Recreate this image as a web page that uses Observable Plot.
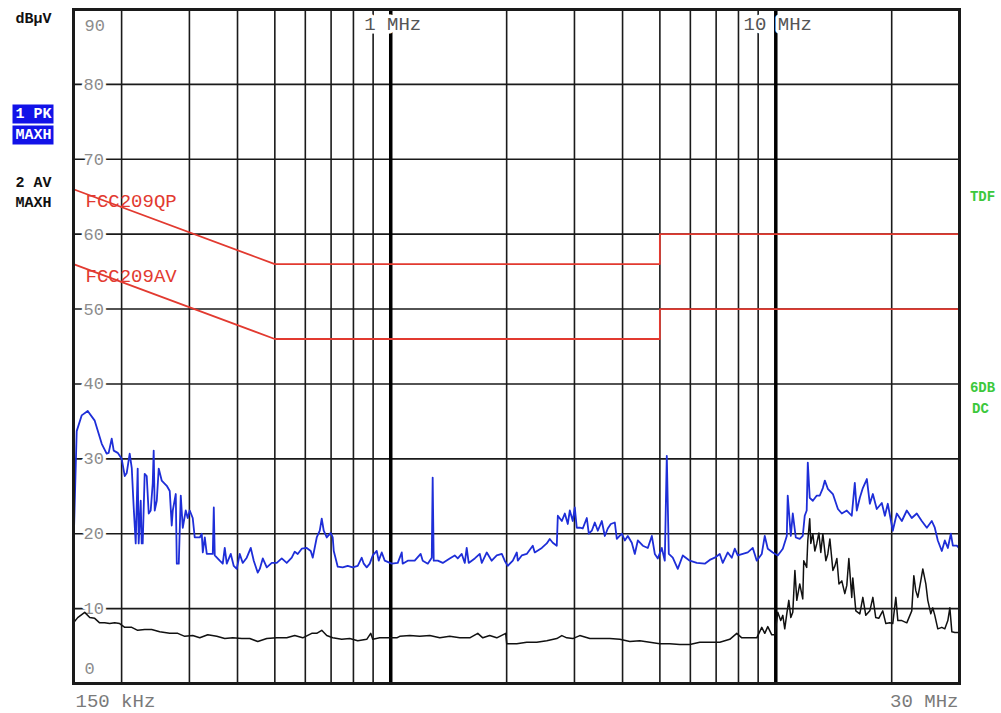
<!DOCTYPE html>
<html><head><meta charset="utf-8">
<script src="https://cdn.jsdelivr.net/npm/d3@7"></script>
<script src="https://cdn.jsdelivr.net/npm/@observablehq/plot@0.6"></script>
<style>body{margin:0;background:#fff}</style>
</head><body><div id="chart"></div>
<script>
// Trace 1: PK MAXH (blue), frequency in MHz, level in dBµV
const pkFreq = [0.150,0.1505,0.1529,0.1575,0.1633,0.1703,0.1776,0.1829,0.1851,0.1885,0.1908,0.1954,0.2001,0.2038,0.2062,0.2099,0.2125,0.2150,0.2176,0.2202,0.2215,0.2242,0.2255,0.2269,0.2296,0.2324,0.2352,0.2380,0.2409,0.2423,0.2438,0.2468,0.2497,0.2542,0.2620,0.2667,0.2699,0.2716,0.2765,0.2782,0.2815,0.2849,0.2883,0.2935,0.2970,0.3006,0.3060,0.3097,0.3192,0.3230,0.3250,0.3289,0.3328,0.3450,0.3471,0.3491,0.3597,0.3662,0.3706,0.3751,0.3842,0.3911,0.3982,0.4054,0.4127,0.4227,0.4330,0.4408,0.4515,0.4570,0.4652,0.4765,0.4909,0.5058,0.5211,0.5369,0.5532,0.5632,0.5734,0.5873,0.6051,0.6198,0.6273,0.6424,0.6541,0.6619,0.6699,0.6820,0.6985,0.7069,0.7112,0.7284,0.7504,0.7732,0.7967,0.8209,0.8407,0.8509,0.8663,0.8820,0.8979,0.9196,0.9306,0.9476,0.9647,
1.006,1.043,1.068,1.074,1.107,1.154,1.196,1.211,1.248,1.278,1.285,1.293,1.325,1.365,1.423,1.466,1.493,1.529,1.557,1.575,1.594,1.653,1.703,1.724,1.776,1.829,1.885,1.943,1.977,2.013,2.075,2.125,2.138,2.189,2.255,2.338,2.366,2.468,2.542,2.588,2.635,2.699,2.716,2.782,2.832,2.883,2.918,2.970,3.006,3.042,3.097,3.153,3.230,3.269,3.328,3.388,3.450,3.533,3.597,3.662,3.728,3.819,3.865,3.982,4.054,4.127,4.227,4.304,4.382,4.515,4.652,4.765,4.851,4.939,5.058,5.149,5.211,5.274,5.401,5.565,5.734,5.979,6.235,6.541,6.739,6.943,7.154,7.284,7.504,7.686,7.825,7.967,8.209,8.458,8.715,8.925,9.196,9.362,9.533,9.822,
10.12,10.43,10.68,10.74,10.94,11.07,11.27,11.54,11.75,11.89,12.03,12.11,12.25,12.48,12.78,13.01,13.25,13.41,13.65,14.07,14.50,14.84,15.29,15.75,16.04,16.23,16.53,16.83,17.24,17.55,17.87,18.29,18.85,19.20,19.54,20.13,20.62,21.25,21.89,22.55,23.24,23.94,24.68,25.42,25.88,26.35,26.99,27.48,27.98,28.49,28.83,29.53,30.0];
const pkLevel = [26.7,20.8,33.7,35.8,36.4,35.1,32.0,30.7,30.8,32.7,31.1,30.8,30.0,27.7,28.1,30.7,28.8,23.5,18.7,28.7,18.7,24.4,18.7,18.7,28.0,27.7,22.7,23.1,26.7,31.1,23.1,24.4,28.7,27.1,26.4,25.7,21.1,23.1,25.3,16.0,16.0,25.1,20.8,23.1,22.1,23.1,22.1,19.5,19.5,20.0,17.5,19.5,17.3,17.3,23.5,17.1,16.4,16.0,18.1,16.0,17.3,15.7,15.3,17.3,16.1,16.8,18.1,16.4,14.8,15.3,16.7,15.5,16.1,16.1,16.7,16.1,16.8,17.6,17.3,18.0,18.1,17.7,16.8,19.5,20.4,22.0,20.4,19.5,20.1,19.5,17.7,15.6,15.5,15.7,15.5,15.7,16.8,16.0,15.5,16.0,17.1,17.7,16.4,17.5,16.4,
16.0,16.1,17.5,16.0,16.4,16.4,17.3,16.4,16.0,16.8,27.5,16.4,16.4,16.1,16.7,17.1,16.7,17.3,16.1,18.1,16.1,16.7,17.3,16.1,17.5,16.4,17.1,17.3,16.4,15.7,16.4,17.5,16.4,17.1,17.3,18.4,17.5,18.1,18.7,19.3,18.8,18.4,22.4,21.7,22.7,21.3,23.1,21.7,23.5,20.8,20.8,20.7,22.1,20.0,20.4,21.5,20.4,21.7,19.7,20.7,21.3,21.5,19.3,20.0,19.1,19.7,18.8,17.3,19.1,18.4,18.1,19.7,17.3,16.7,18.1,16.4,30.4,17.3,16.8,15.3,17.1,16.4,16.1,16.0,16.5,16.8,17.3,16.1,17.5,16.8,18.0,17.1,17.3,17.5,18.1,16.4,17.3,19.7,18.0,17.5,
17.1,18.0,19.7,25.1,19.7,22.7,19.5,19.3,19.7,22.4,23.1,29.5,24.8,24.4,25.1,25.1,26.1,27.1,26.0,25.3,23.3,22.7,23.1,22.4,26.8,23.1,24.8,26.1,27.3,24.0,25.3,23.3,24.1,22.4,24.0,20.4,22.7,21.7,23.1,22.1,22.7,21.7,20.8,21.7,20.8,19.1,17.7,19.1,18.1,20.0,18.4,18.4,18.0];

// Trace 2: AV MAXH (black)
const avFreq = [0.150,0.1538,0.1604,0.1653,0.1703,0.1754,0.1807,0.1862,0.1919,0.1977,0.2038,0.2125,0.2202,0.2296,0.2394,0.2512,0.2667,0.2798,0.2918,0.3060,0.3192,0.3348,0.3533,0.3706,0.3888,0.4103,0.4304,0.4515,0.4765,0.5058,0.5369,0.5632,0.5908,0.6235,0.6424,0.6619,0.6820,0.7069,0.7459,0.7825,0.8209,0.8663,0.8872,0.8979,0.9362,0.9822,
1.037,1.055,1.121,1.189,1.263,1.341,1.423,1.511,1.604,1.683,1.734,1.807,1.885,1.954,1.989,2.001,2.125,2.255,2.394,2.542,2.699,2.782,2.866,2.970,3.097,3.289,3.491,3.706,3.935,4.178,4.434,4.708,4.998,5.305,5.632,5.979,6.348,6.739,7.154,7.595,7.919,8.160,8.560,8.925,9.196,9.362,9.533,9.763,9.94,
10.12,10.30,10.43,10.55,10.68,10.81,10.94,11.07,11.21,11.34,11.54,11.75,11.82,12.03,12.11,12.25,12.33,12.48,12.63,12.78,12.94,13.09,13.25,13.49,13.65,13.82,14.07,14.24,14.41,14.59,14.84,15.11,15.29,15.48,15.75,15.85,16.14,16.53,16.83,17.13,17.55,17.87,18.18,18.51,18.96,19.31,19.77,20.13,20.50,20.75,21.25,21.89,22.55,22.83,23.10,23.38,23.80,24.09,24.53,24.82,25.27,25.57,25.88,26.35,26.99,27.48,27.98,28.32,28.66,29.18,30.0];
const avLevel = [8.1,8.8,9.5,8.8,8.7,8.1,8.1,8.0,8.1,8.0,7.5,7.5,7.1,7.2,7.2,6.9,6.7,6.7,6.3,6.4,6.1,6.5,6.3,6.0,6.1,6.0,6.0,5.6,6.0,6.1,6.1,6.4,6.1,6.7,6.7,7.1,6.4,6.1,5.9,6.0,5.7,5.9,6.7,5.9,6.1,6.1,
6.1,6.3,6.4,6.3,6.4,6.1,6.3,6.1,6.1,6.7,6.1,6.4,6.1,6.5,6.7,5.3,5.3,5.5,5.5,5.7,6.0,6.4,6.1,6.0,6.4,6.0,6.0,6.0,5.9,5.6,5.7,5.5,5.3,5.3,5.2,5.2,5.5,5.5,5.5,5.9,6.7,6.1,6.1,6.1,7.5,6.7,7.6,6.5,6.5,
9.5,8.4,9.1,7.3,9.3,11.1,8.8,9.5,15.1,11.1,13.3,11.3,16.4,15.5,19.1,22.0,18.7,20.0,17.7,18.7,20.1,17.5,20.0,16.4,17.3,19.3,15.1,15.7,16.7,13.3,13.7,12.0,13.1,16.7,11.5,14.1,9.7,9.3,11.5,9.1,9.7,11.5,8.8,8.7,9.7,8.0,8.1,8.0,11.5,8.4,8.4,8.1,9.7,14.4,12.4,11.5,13.7,15.3,13.3,11.1,9.3,10.1,9.1,7.3,7.5,7.3,8.4,10.1,6.9,6.8,6.8];

// Limit lines
const limitFreq = [0.15,0.5,5,5,30];
const qpLimit = [66,56,56,60,60];
const avLimit = [56,46,46,50,50];
const limitNames = ["FCC209QP","FCC209AV"];

// Grid / tick labels
const gridFreqMinor = [0.2,0.3,0.4,0.5,0.6,0.7,0.8,0.9,2,3,4,5,6,7,8,9,20];
const gridFreqMajor = [1,10];
const gridFreqLabels = ["1 MHz","10 MHz"];
const gridLevel = [10,20,30,40,50,60,70,80];
const levelLabels = [10,20,30,40,50,60,70,80];
const startLabel = "150 kHz", stopLabel = "30 MHz";
const unitLabel = "dBµV";
const traceLabels = [["1 PK","MAXH"],["2 AV","MAXH"]];
const rightLabels = ["TDF","6DB","DC"];

const pk = pkFreq.map((f,i)=>({f, v: pkLevel[i]}));
const av = avFreq.map((f,i)=>({f, v: avLevel[i]}));
const qp = limitFreq.map((f,i)=>({f, v: qpLimit[i]}));
const al = limitFreq.map((f,i)=>({f, v: avLimit[i]}));
const majors = gridFreqMajor.map((f,i)=>({f, t: gridFreqLabels[i]}));

const mono = "'Liberation Mono','DejaVu Sans Mono',monospace";
const red = "#e23a30", green = "#3cc83c", boxBlue = "#1212e8";
const T = (txt, o) => Plot.text([txt], {lineAnchor: "middle", fontFamily: mono, ...o});

const chart = Plot.plot({
  width: 1001, height: 713,
  marginLeft: 73, marginRight: 42, marginTop: 9, marginBottom: 30,
  x: {type: "log", domain: [0.15, 30], axis: null},
  y: {domain: [0, 90], axis: null},
  style: {background: "white", fontFamily: mono},
  marks: [
    Plot.ruleY(gridLevel, {stroke: "#1a1a1a", strokeWidth: 1.6}),
    Plot.ruleX(gridFreqMinor, {stroke: "#1a1a1a", strokeWidth: 1.6}),
    Plot.ruleX(gridFreqMajor, {stroke: "#000", strokeWidth: 3.5}),
    Plot.text(levelLabels, {y: d => d, frameAnchor: "left", dx: 10, textAnchor: "start", lineAnchor: "middle", text: d => String(d), fill: "#8c8c8c", stroke: "white", strokeWidth: 6, fontSize: 17, fontFamily: mono}),
    T("90", {frameAnchor: "top-left", dx: 11, dy: 16, textAnchor: "start", fill: "#8c8c8c", fontSize: 17}),
    T("0", {frameAnchor: "bottom-left", dx: 11, dy: -15, textAnchor: "start", fill: "#8c8c8c", fontSize: 17}),
    Plot.text(majors, {x: "f", text: "t", frameAnchor: "top", dy: 14, dx: 2, textAnchor: "middle", lineAnchor: "middle", fill: "#555", stroke: "white", strokeWidth: 7, fontSize: 19, fontFamily: mono}),
    Plot.line(qp, {x: "f", y: "v", stroke: red, strokeWidth: 1.8}),
    Plot.line(al, {x: "f", y: "v", stroke: red, strokeWidth: 1.8}),
    T(limitNames[0], {frameAnchor: "top-left", dx: 12, dy: 191, textAnchor: "start", fill: red, fontSize: 19}),
    T(limitNames[1], {frameAnchor: "top-left", dx: 12, dy: 266, textAnchor: "start", fill: red, fontSize: 19}),
    Plot.line(av, {x: "f", y: "v", stroke: "#111", strokeWidth: 1.5}),
    Plot.line(pk, {x: "f", y: "v", stroke: "#1e2ed8", strokeWidth: 1.8}),
    Plot.frame({stroke: "#1a1a1a", strokeWidth: 3}),
    T(startLabel, {frameAnchor: "bottom-left", dx: 2, dy: 17, textAnchor: "start", fill: "#7a7a7a", fontSize: 19}),
    T(stopLabel, {frameAnchor: "bottom-right", dx: -1, dy: 17, textAnchor: "end", fill: "#7a7a7a", fontSize: 19}),
    T(unitLabel, {frameAnchor: "top-left", dx: -40, dy: 9, textAnchor: "middle", fill: "#111", fontWeight: "bold", fontSize: 15}),
    Plot.frame({fill: boxBlue, stroke: null, insetLeft: -61, insetRight: 906, insetTop: 95, insetBottom: 560}),
    Plot.frame({fill: boxBlue, stroke: null, insetLeft: -61, insetRight: 906, insetTop: 116, insetBottom: 539}),
    T(traceLabels[0][0], {frameAnchor: "top-left", dx: -40, dy: 104, textAnchor: "middle", fill: "white", fontWeight: "bold", fontSize: 15}),
    T(traceLabels[0][1], {frameAnchor: "top-left", dx: -40, dy: 125, textAnchor: "middle", fill: "white", fontWeight: "bold", fontSize: 15}),
    T(traceLabels[1][0], {frameAnchor: "top-left", dx: -40, dy: 173, textAnchor: "middle", fill: "#111", fontWeight: "bold", fontSize: 15}),
    T(traceLabels[1][1], {frameAnchor: "top-left", dx: -40, dy: 193, textAnchor: "middle", fill: "#111", fontWeight: "bold", fontSize: 15}),
    T(rightLabels[0], {frameAnchor: "top-right", dx: 23, dy: 187, textAnchor: "middle", fill: green, fontWeight: "bold", fontSize: 14}),
    T(rightLabels[1], {frameAnchor: "top-right", dx: 23, dy: 378, textAnchor: "middle", fill: green, fontWeight: "bold", fontSize: 14}),
    T(rightLabels[2], {frameAnchor: "top-right", dx: 21, dy: 399, textAnchor: "middle", fill: green, fontWeight: "bold", fontSize: 14})
  ]
});
document.getElementById("chart").appendChild(chart);
</script>
</body></html>
